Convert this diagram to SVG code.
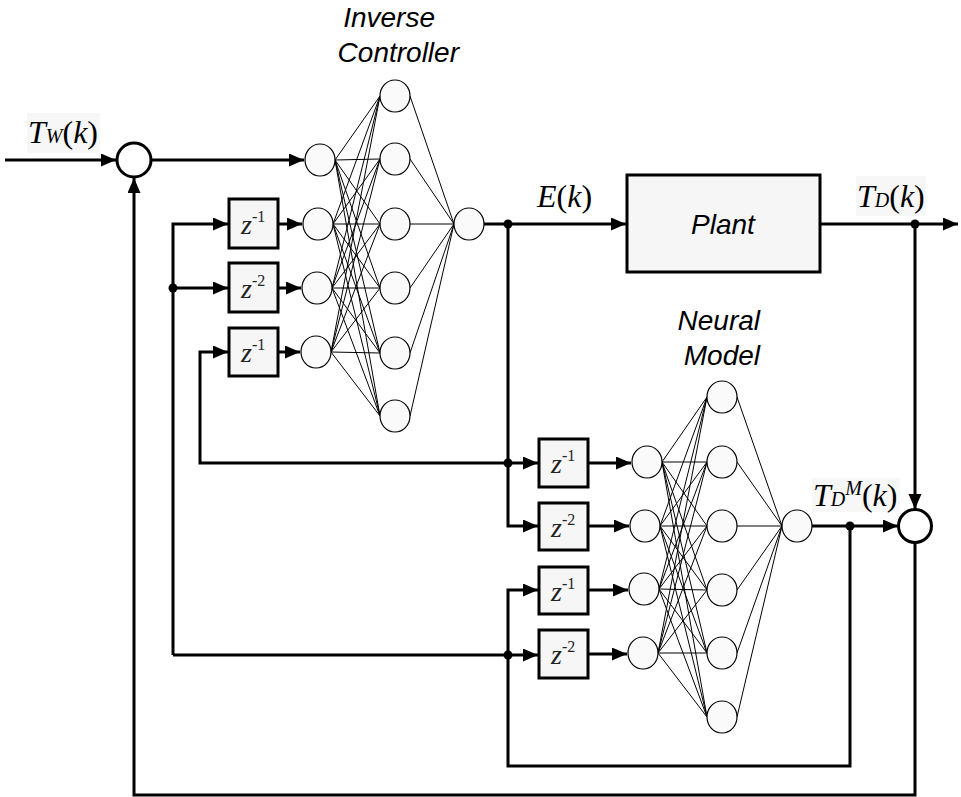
<svg xmlns="http://www.w3.org/2000/svg" width="961" height="797" viewBox="0 0 961 797">
<style>
.w{fill:none;stroke:#000;stroke-width:3}
.a{marker-end:url(#ar)}
.n{fill:#fafafa;stroke:#000;stroke-width:1.2}
.sum{fill:#fff;stroke:#000;stroke-width:3}
.box{fill:#f6f6f6;stroke:#000;stroke-width:3}
.net{fill:none;stroke:#000;stroke-width:1}
.lab{font-family:"Liberation Sans",Arial,sans-serif;font-style:italic;font-size:28px;fill:#000}
.tm{font-family:"Liberation Serif","Times New Roman",serif;font-size:32px;fill:#000}
.z{font-family:"Liberation Serif","Times New Roman",serif;font-size:28px;font-style:italic;fill:#222}
.z tspan{font-style:normal;font-size:16px}
.dot{fill:#000}
</style>
<defs>
<marker id="ar" markerUnits="userSpaceOnUse" markerWidth="16" markerHeight="14" refX="15" refY="6.5" orient="auto">
<path d="M0,0 L15,6.5 L0,13 z" fill="#000"/>
</marker>
</defs>
<rect width="961" height="797" fill="#fff"/>

<g id="connectors">
<path class="w a" d="M5 160 H116"/>
<path class="w a" d="M151 160 H304"/>
<path class="w a" d="M173 655 V224 H228"/>
<path class="w a" d="M173 288 H228"/>
<path class="w a" d="M173 655 H538"/>
<path class="w a" d="M279 224 H302"/>
<path class="w a" d="M279 288 H301"/>
<path class="w a" d="M279 352 H300"/>
<path class="w a" d="M508 463 H200 V352 H228"/>
<path class="w a" d="M484 224 H626"/>
<path class="w a" d="M508 224 V526 H538"/>
<path class="w a" d="M508 463 H538"/>
<path class="w a" d="M850 526 V766 H508 V590 H538"/>
<path class="w a" d="M589 463 H631"/>
<path class="w a" d="M589 526 H629"/>
<path class="w a" d="M589 590 H628"/>
<path class="w a" d="M589 654 H627"/>
<path class="w a" d="M821 224 H958"/>
<path class="w a" d="M915 224 V509"/>
<path class="w a" d="M812 526 H898"/>
<path class="w a" d="M915 543 V795 H134 V178"/>
<circle class="dot" cx="173" cy="288" r="4.5"/>
<circle class="dot" cx="508" cy="224" r="4.5"/>
<circle class="dot" cx="508" cy="463" r="4.5"/>
<circle class="dot" cx="508" cy="655" r="4.5"/>
<circle class="dot" cx="850" cy="526" r="4.5"/>
<circle class="dot" cx="915" cy="224" r="4.5"/>
</g>

<g id="sum1"><circle class="sum" cx="134" cy="160" r="17"/></g>
<g id="sum2"><circle class="sum" cx="915" cy="526" r="16.5"/></g>

<g id="delay1"><rect class="box" x="229" y="199" width="49" height="49"/><text class="z" x="241" y="234">z<tspan dy="-12">-1</tspan></text></g>
<g id="delay2"><rect class="box" x="229" y="263" width="49" height="49"/><text class="z" x="241" y="298">z<tspan dy="-12">-2</tspan></text></g>
<g id="delay3"><rect class="box" x="229" y="328" width="49" height="48"/><text class="z" x="241" y="362">z<tspan dy="-12">-1</tspan></text></g>
<g id="delay4"><rect class="box" x="539" y="439" width="49" height="48"/><text class="z" x="551" y="473">z<tspan dy="-12">-1</tspan></text></g>
<g id="delay5"><rect class="box" x="539" y="503" width="49" height="47"/><text class="z" x="551" y="537">z<tspan dy="-12">-2</tspan></text></g>
<g id="delay6"><rect class="box" x="539" y="567" width="49" height="47"/><text class="z" x="551" y="601">z<tspan dy="-12">-1</tspan></text></g>
<g id="delay7"><rect class="box" x="539" y="630" width="49" height="48"/><text class="z" x="551" y="664">z<tspan dy="-12">-2</tspan></text></g>

<g id="plant"><rect class="box" x="627" y="175" width="193" height="97" fill="#f8f8f8"/><text class="lab" x="723" y="234" text-anchor="middle">Plant</text></g>

<g id="inverse-controller">
<text class="lab" x="435" y="27" text-anchor="end">Inverse</text>
<text class="lab" x="459" y="62" text-anchor="end">Controller</text>
<path class="net" d="M335 160L380 96M335 160L380 159M335 160L380 224M335 160L380 288M335 160L380 353M335 160L380 416
M333 224L380 96M333 224L380 159M333 224L380 224M333 224L380 288M333 224L380 353M333 224L380 416
M332 288L380 96M332 288L380 159M332 288L380 224M332 288L380 288M332 288L380 353M332 288L380 416
M331 352L380 96M331 352L380 159M331 352L380 224M331 352L380 288M331 352L380 353M331 352L380 416
M410 96L454 224M410 159L454 224M410 224L454 224M410 288L454 224M410 353L454 224M410 416L454 224"/>
<ellipse class="n" cx="320" cy="160" rx="15" ry="16"/>
<ellipse class="n" cx="318" cy="224" rx="15" ry="16"/>
<ellipse class="n" cx="317" cy="288" rx="15" ry="16"/>
<ellipse class="n" cx="316" cy="352" rx="15" ry="16"/>
<ellipse class="n" cx="395" cy="96" rx="15" ry="16"/>
<ellipse class="n" cx="395" cy="159" rx="15" ry="16"/>
<ellipse class="n" cx="395" cy="224" rx="15" ry="16"/>
<ellipse class="n" cx="395" cy="288" rx="15" ry="16"/>
<ellipse class="n" cx="395" cy="353" rx="15" ry="16"/>
<ellipse class="n" cx="395" cy="416" rx="15" ry="16"/>
<ellipse class="n" cx="469" cy="224" rx="15" ry="16"/>
</g>

<g id="neural-model">
<text class="lab" x="760" y="330" text-anchor="end">Neural</text>
<text class="lab" x="760" y="365" text-anchor="end">Model</text>
<path class="net" d="M662 462L707 397M662 462L707 462M662 462L707 526M662 462L707 590M662 462L707 653M662 462L707 717
M660 526L707 397M660 526L707 462M660 526L707 526M660 526L707 590M660 526L707 653M660 526L707 717
M659 589L707 397M659 589L707 462M659 589L707 526M659 589L707 590M659 589L707 653M659 589L707 717
M658 653L707 397M658 653L707 462M658 653L707 526M658 653L707 590M658 653L707 653M658 653L707 717
M737 397L782 526M737 462L782 526M737 526L782 526M737 590L782 526M737 653L782 526M737 717L782 526"/>
<ellipse class="n" cx="647" cy="462" rx="15" ry="16"/>
<ellipse class="n" cx="645" cy="526" rx="15" ry="16"/>
<ellipse class="n" cx="644" cy="589" rx="15" ry="16"/>
<ellipse class="n" cx="643" cy="653" rx="15" ry="16"/>
<ellipse class="n" cx="722" cy="397" rx="15" ry="16"/>
<ellipse class="n" cx="722" cy="462" rx="15" ry="16"/>
<ellipse class="n" cx="722" cy="526" rx="15" ry="16"/>
<ellipse class="n" cx="722" cy="590" rx="15" ry="16"/>
<ellipse class="n" cx="722" cy="653" rx="15" ry="16"/>
<ellipse class="n" cx="722" cy="717" rx="15" ry="16"/>
<ellipse class="n" cx="797" cy="526" rx="15" ry="16"/>
</g>

<g id="labels">
<rect x="27" y="113" width="73" height="40" fill="#f7f7f7"/>
<text class="tm" x="28" y="143"><tspan font-style="italic">T</tspan><tspan font-size="20" font-style="italic">W</tspan>(<tspan font-style="italic">k</tspan>)</text>
<text class="tm" x="537" y="207"><tspan font-style="italic">E</tspan>(<tspan font-style="italic">k</tspan>)</text>
<rect x="856" y="176" width="70" height="40" fill="#f7f7f7"/>
<text class="tm" x="857" y="207"><tspan font-style="italic">T</tspan><tspan font-size="20" font-style="italic">D</tspan>(<tspan font-style="italic">k</tspan>)</text>
<rect x="812" y="478" width="88" height="34" fill="#f7f7f7"/>
<text class="tm" x="813" y="506"><tspan font-style="italic">T</tspan><tspan font-size="20" font-style="italic">D</tspan><tspan font-size="20" font-style="italic" dy="-11">M</tspan><tspan dy="11">(</tspan><tspan font-style="italic">k</tspan>)</text>
</g>
</svg>
